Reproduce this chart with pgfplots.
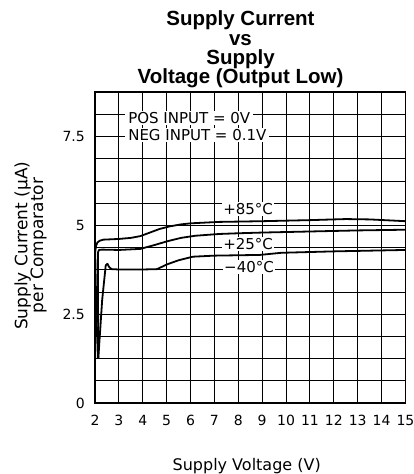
\documentclass[border=0pt]{standalone}
\usepackage{fontspec}
\setmainfont{DejaVu Sans}
\newfontfamily\titlefont{Liberation Sans}
\usepackage{pgfplots}
\pgfplotsset{compat=1.18}
\begin{document}
\begin{tikzpicture}
\useasboundingbox (0,0) rectangle (413pt,474pt);
\begin{axis}[
  at={(95pt,71pt)}, anchor=south west,
  scale only axis, width=310.5pt, height=310.7pt,
  xmin=2, xmax=15, ymin=0, ymax=8.75,
  xtick={2,3,4,5,6,7,8,9,10,11,12,13,14,15},
  ytick={0,0.625,1.25,1.875,2.5,3.125,3.75,4.375,5,5.625,6.25,6.875,7.5,8.125,8.75},
  yticklabels={0,{},{},{},2.5,{},{},{},5,{},{},{},7.5,{},{}},
  extra x ticks={8}, extra x tick labels={},
  extra x tick style={major grid style={black, line width=1.4pt}},
  major tick length=0pt,
  grid=major,
  grid style={black, line width=1pt},
  axis line style={black, line width=1.6pt},
  tick label style={font=\fontsize{14}{14}\selectfont, inner sep=0pt},
  yticklabel style={xshift=-10pt},
  xticklabel style={yshift=-12pt},
  /pgf/number format/assume math mode=true,
  clip=false,
]
% +85 C
\addplot[black, line width=1.8pt, line join=round] coordinates {
(2.12,1.27) (2.06,2.5) (2.02,3.8) (2.01,4.25) (2.04,4.42) (2.1,4.52) (2.2,4.57) (2.35,4.6)
(3.0,4.62) (3.5,4.65) (3.9,4.7) (4.3,4.8) (4.7,4.9) (5.1,4.97) (5.6,5.03) (6.0,5.06)
(7.2,5.1) (9,5.12) (11,5.15) (12.5,5.18) (13.5,5.17) (15,5.12)};
% +25 C
\addplot[black, line width=1.8pt, line join=round] coordinates {
(2.14,1.27) (2.13,2.5) (2.12,3.9) (2.13,4.25) (2.17,4.31) (2.3,4.32) (3.0,4.31) (3.9,4.34)
(4.5,4.45) (5.0,4.55) (5.6,4.65) (6.2,4.71) (7.2,4.76) (8,4.78) (9,4.8) (11,4.83) (13,4.86) (15,4.88)};
% -40 C
\addplot[black, line width=1.8pt, line join=round] coordinates {
(2.14,1.27) (2.3,2.9) (2.45,3.88) (2.52,3.92) (2.6,3.82) (2.7,3.77) (3.0,3.76) (4.0,3.76)
(4.6,3.77) (5.0,3.9) (5.5,4.02) (6.1,4.12) (7,4.15) (8.9,4.17) (9.8,4.23) (12,4.27) (15,4.31)};
\node[fill=white, inner xsep=3pt, inner ysep=1.5pt, anchor=west, font=\fontsize{15}{15}\selectfont] at (axis cs:3.26,8.03) {POS INPUT = 0V};
\node[fill=white, inner xsep=3pt, inner ysep=1.5pt, anchor=west, font=\fontsize{15}{15}\selectfont] at (axis cs:3.26,7.55) {NEG INPUT = 0.1V};
\node[fill=white, inner sep=1pt, font=\fontsize{15}{15}\selectfont] at (axis cs:8.41,5.46) {+85°C};
\node[fill=white, inner sep=1pt, font=\fontsize{15}{15}\selectfont] at (axis cs:8.41,4.48) {+25°C};
\node[fill=white, inner sep=1pt, font=\fontsize{15}{15}\selectfont] at (axis cs:8.45,3.83) {−40°C};
\end{axis}
\node[anchor=base, font=\titlefont\bfseries\fontsize{20.5}{20.5}\selectfont] at (240.5pt,448pt) {Supply Current};
\node[anchor=base, font=\titlefont\bfseries\fontsize{20.5}{20.5}\selectfont] at (240.5pt,428.8pt) {vs};
\node[anchor=base, font=\titlefont\bfseries\fontsize{20.5}{20.5}\selectfont] at (240.5pt,409.5pt) {Supply};
\node[anchor=base, font=\titlefont\bfseries\fontsize{20.5}{20.5}\selectfont] at (240.5pt,390.7pt) {Voltage (Output Low)};
\node[rotate=90, anchor=base, font=\fontsize{17}{17}\selectfont] at (27.3pt,228.2pt) {Supply Current (µA)};
\node[rotate=90, anchor=base, font=\fontsize{17}{17}\selectfont] at (43pt,228.5pt) {per Comparator};
\node[anchor=base, font=\fontsize{16}{16}\selectfont] at (246.7pt,4pt) {Supply Voltage (V)};
\end{tikzpicture}
\end{document}
